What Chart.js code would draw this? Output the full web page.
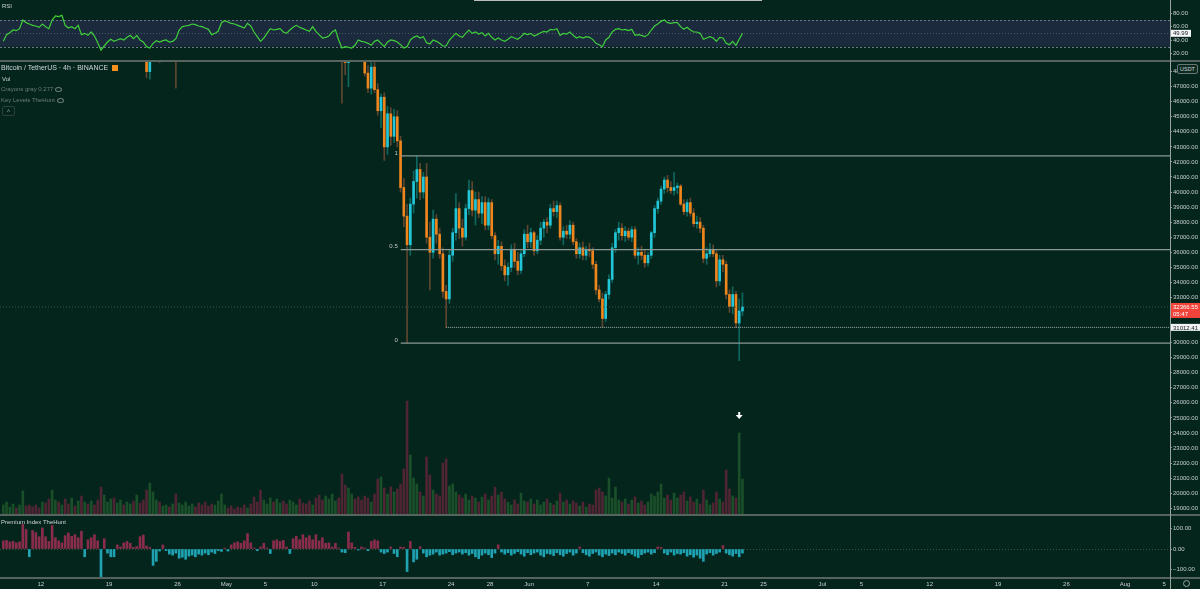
<!DOCTYPE html>
<html>
<head>
<meta charset="utf-8">
<title>Bitcoin / TetherUS 4h</title>
<script src="https://cdn.jsdelivr.net/npm/chart.js@4.4.1/dist/chart.umd.min.js"></script>
<style>
  html, body { margin: 0; padding: 0; }
  body { width: 1200px; height: 589px; position: relative; overflow: hidden; background: #03251c; font-family: "Liberation Sans", Arial, sans-serif; }
  canvas { position: absolute; left: 0; }
  #rsiCanvas { top: 0; }
  #mainCanvas { top: 61px; }
  #premCanvas { top: 516px; }
  .sep { position: absolute; left: 0; width: 1200px; height: 2px; background: #56635f; }
  .txt { position: absolute; white-space: nowrap; color: #d1d4dc; font-size: 7px; line-height: 8px; }
  .dim { color: #6f7d79; }
  .eye { position: absolute; width: 5px; height: 3px; border: 1px solid #6f7d79; border-radius: 50%; }
</style>
</head>
<body>
<canvas id="rsiCanvas" width="1200" height="60"></canvas>
<canvas id="mainCanvas" width="1200" height="453"></canvas>
<canvas id="premCanvas" width="1200" height="73"></canvas>

<div class="sep" style="top:60px"></div>
<div class="sep" style="top:514px"></div>
<div class="sep" style="top:577px"></div>
<div style="position:absolute;left:1170px;top:0;width:1px;height:589px;background:#9aa4a1"></div>
<div style="position:absolute;left:474px;top:0;width:288px;height:1px;background:#b8bdbb"></div>

<div class="txt" style="left:2px;top:2px;font-size:6px">RSI</div>
<div class="txt" style="left:1px;top:64px">Bitcoin / TetherUS · 4h · BINANCE</div>
<div style="position:absolute;left:112px;top:65px;width:6px;height:6px;background:#f5901e"></div>
<div class="txt" style="left:2px;top:75px;font-size:6px">Vol</div>
<div class="txt dim" style="left:1px;top:85px;font-size:6px">Crayons gray 0.277</div>
<div class="eye" style="left:55px;top:87px"></div>
<div class="txt dim" style="left:1px;top:96px;font-size:6px">Key Levels TheHunt</div>
<div class="eye" style="left:57px;top:98px"></div>
<div style="position:absolute;left:2px;top:106px;width:11px;height:8px;border:1px solid #2f403b;border-radius:2px;color:#9aa4a1;font-size:6px;line-height:9px;text-align:center">&#708;</div>
<div class="txt" style="left:1px;top:518px;font-size:6px">Premium Index TheHunt</div>
<div style="position:absolute;left:1177px;top:64px;width:19px;height:8px;border:1px solid #6a7672;border-radius:2px;background:#0b2a22;color:#d1d4dc;font-size:5.5px;line-height:8px;text-align:center">USDT</div>
<div style="position:absolute;left:1183px;top:580px;width:5px;height:5px;border:1px solid #9aa4a1;border-radius:50%"></div>

<script>
// time base: 8h slots counted from Apr 8 00:00, x axis in days since Apr 12
const firstSlotDay = -4;
const slotsPerDay = 3;
const X_MIN = -4.17;
const X_MAX = 115.6;

const dateTickDays = [0, 7, 14, 19, 23, 28, 35, 42, 46, 50, 56, 63, 70, 74, 80, 84, 91, 98, 105, 111, 115];
const dateTickLabels = ['12', '19', '26', 'May', '5', '10', '17', '24', '28', 'Jun', '7', '14', '21', '25', 'Jul', '5', '12', '19', '26', 'Aug', '5'];

const priceTicks = [19000, 20000, 21000, 22000, 23000, 24000, 25000, 26000, 27000, 28000, 29000, 30000, 31000, 32000, 33000,
  34000, 35000, 36000, 37000, 38000, 39000, 40000, 41000, 42000, 43000, 44000, 45000, 46000, 47000, 48000];
const rsiTicks = [20, 40, 60, 80];
const premTicks = [-100, 0, 100];

// candles that poke into view before the May drop: [slot, open, high, low, close]
const earlyCandles = [
  [44, 51000, 51500, 47600, 48000],
  [45, 48000, 50800, 47500, 50200],
  [48, 50000, 50700, 48600, 49800],
  [53, 50000, 50600, 46900, 49200],
];

const firstCandleSlot = 104;
const opens = [
  54500, 49500, 48600, 50000, 50600, 49900, 49700, 49300, 47900, 46900,
  48300, 46800, 45400, 46300, 43000, 45200, 43700, 45000, 43400, 40300,
  38400, 36500, 39200, 40700, 41500, 40000, 41000, 37000, 36000, 38200,
  37200, 35900, 33400, 32900, 35800, 37300, 38900, 37600, 37000, 38900,
  40100, 38800, 39500, 38600, 39300, 37800, 39300, 37100, 35900, 36400,
  35100, 34500, 35000, 36200, 35400, 34800, 35900, 37200, 36700, 37300,
  36100, 36800, 37600, 38000, 37800, 38900, 38700, 39100, 37000, 37400,
  37200, 37800, 36700, 35900, 36300, 35800, 36200, 36100, 35200, 33500,
  32900, 31600, 33200, 34200, 36300, 37300, 37600, 37100, 37400, 37000,
  37500, 35800, 36000, 35800, 35300, 35800, 37300, 38900, 39400, 40200,
  40800, 40300, 40100, 40300, 40400, 39200, 38700, 39300, 38600, 37900,
  38000, 37600, 35600, 35900, 36200, 35900, 34100, 35500, 35200, 33200,
  32400, 33200, 31300, 32100,
];
const highs = [
  55500, 50000, 50500, 51000, 51400, 50800, 50200, 49600, 48400, 48600,
  48700, 47200, 46500, 46600, 45700, 45600, 45500, 45400, 43700, 40900,
  39200, 39600, 41400, 42400, 41900, 41300, 41900, 38000, 38800, 38500,
  37600, 36300, 33800, 36200, 37600, 39900, 39300, 38200, 39200, 40800,
  40700, 40000, 40000, 39700, 39700, 39600, 39500, 37300, 36800, 36700,
  35500, 35300, 36500, 36600, 36000, 36100, 37500, 37800, 37600, 37400,
  37100, 38000, 38200, 38300, 39200, 39400, 39400, 39300, 37700, 37800,
  38100, 38000, 36900, 36600, 36700, 36400, 36600, 36300, 35400, 33800,
  33300, 33400, 34500, 36600, 37500, 38000, 37900, 37700, 37600, 37700,
  37700, 36300, 36400, 36200, 36000, 37400, 39100, 39600, 40400, 41000,
  41100, 40700, 41300, 40600, 40500, 39500, 39500, 39600, 38900, 38400,
  38300, 37800, 36300, 36600, 36500, 36100, 35800, 35800, 35400, 33500,
  33700, 33400, 32900, 33300,
];
const lows = [
  45900, 47800, 47000, 49200, 49500, 49000, 48900, 47700, 46600, 46500,
  46600, 45100, 44300, 42100, 42500, 43100, 43300, 43000, 40000, 37700,
  29960, 35800, 38600, 39600, 39500, 39600, 36600, 33500, 35600, 36600,
  35600, 33000, 31012.41, 32600, 35400, 36800, 36900, 36400, 36800, 38500,
  38400, 37800, 38300, 37900, 37500, 37500, 36900, 35500, 35200, 34800,
  34100, 33800, 34700, 35000, 34500, 34600, 35700, 36300, 36300, 35800,
  35900, 36500, 37000, 37300, 37600, 38400, 38300, 36800, 36500, 36900,
  36900, 36500, 35600, 35600, 35500, 35500, 35700, 34900, 33200, 32700,
  31000, 31400, 32900, 34000, 36000, 36800, 36800, 36700, 36800, 36700,
  35600, 35200, 35500, 35000, 35100, 35600, 37000, 38600, 39200, 39900,
  40000, 39900, 39800, 39900, 39100, 38500, 38400, 38400, 37700, 37600,
  37300, 35300, 35200, 35700, 35700, 33700, 33800, 34700, 32900, 32000,
  31900, 31000, 28800, 31800,
];
const closes = [
  49500, 48600, 50000, 50600, 49900, 49700, 49300, 47900, 46900, 48300,
  46800, 45400, 46300, 43000, 45200, 43700, 45000, 43400, 40300, 38400,
  36500, 39200, 40700, 41500, 40000, 41000, 37000, 36000, 38200, 37200,
  35900, 33400, 32900, 35800, 37300, 38900, 37600, 37000, 38900, 40100,
  38800, 39500, 38600, 39300, 37800, 39300, 37100, 35900, 36400, 35100,
  34500, 35000, 36200, 35400, 34800, 35900, 37200, 36700, 37300, 36100,
  36800, 37600, 38000, 37800, 38900, 38700, 39100, 37000, 37400, 37200,
  37800, 36700, 35900, 36300, 35800, 36200, 36100, 35200, 33500, 32900,
  31600, 33200, 34200, 36300, 37300, 37600, 37100, 37400, 37000, 37500,
  35800, 36000, 35800, 35300, 35800, 37300, 38900, 39400, 40200, 40800,
  40300, 40100, 40300, 40400, 39200, 38700, 39300, 38600, 37900, 38000,
  37600, 35600, 35900, 36200, 35900, 34100, 35500, 35200, 33200, 32400,
  33200, 31300, 32100, 32366.55,
];

const volumes = [
  9, 12, 7, 10, 6, 9, 23, 8, 9, 7,
  9, 6, 12, 11, 15, 24, 14, 12, 9, 15,
  10, 16, 8, 13, 18, 12, 10, 13, 9, 14,
  27, 19, 12, 15, 16, 11, 14, 9, 12, 10,
  13, 19, 11, 14, 24, 31, 22, 14, 12, 8,
  9, 7, 10, 20, 11, 9, 12, 8, 10, 7,
  11, 9, 12, 8, 10, 9, 13, 20, 9, 6,
  8, 5, 7, 6, 9, 6, 10, 17, 12, 24,
  14, 10, 16, 12, 15, 11, 13, 10, 14, 12,
  9, 15, 11, 10, 13, 9, 16, 19, 14, 18,
  15, 20, 13, 16, 40, 29, 26, 20, 15, 17,
  14, 18, 16, 12, 20, 35, 37, 26, 20, 27,
  22, 25, 30, 45, 113, 59, 36, 30, 22, 18,
  57, 39, 24, 20, 18, 51, 55, 28, 30, 22,
  19, 16, 20, 14, 18, 16, 12, 17, 20, 14,
  18, 27, 19, 22, 15, 12, 9, 14, 10, 21,
  13, 12, 15, 10, 14, 9, 12, 15, 11, 9,
  13, 21, 12, 14, 10, 13, 11, 8, 12, 7,
  10, 9, 24, 26, 22, 18, 36, 16, 27, 14,
  12, 15, 10, 14, 17, 11, 13, 9, 12, 20,
  18, 22, 30, 16, 19, 14, 21, 16, 19, 22,
  13, 17, 12, 15, 10, 24, 14, 9, 11, 22,
  15, 12, 44, 25, 18, 16, 81, 35,
];

const premium = [
  40, 42, 35, 38, 30, 35, 120, 95, -38, 90,
  80, 60, 103, 60, 37, 115, 55, 40, 30, 65,
  78, 62, 70, 55, 87, -38, 45, 55, 70, 40,
  -160, 50, -20, -38, -38, 20, 10, 30, 37, 28,
  8, 12, 60, 68, 15, 8, -80, -60, -10, 20,
  -8, -25, -30, -20, -45, -40, -50, -35, -30, -38,
  -25, -30, -20, -28, -15, -22, -8, -12, 5, -10,
  20, 30, 35, 28, 40, 75, 30, 5, -8, 10,
  28, 5, -22, 40, 45, 37, 42, 10, -22, 50,
  62, 45, 70, 55, 65, 45, 70, 40, 55, 28,
  30, 10, 28, 5, -15, -18, 83, 30, 8, -5,
  10, 5, -8, 37, 45, 40, -15, -22, -15, 10,
  -22, -38, 10, 8, -110, 37, -63, -50, 12, -20,
  -38, -30, -25, -15, -30, -25, -20, -13, -28, -20,
  -15, -25, -18, -30, -22, -38, -47, -30, -20, -28,
  -42, -20, 20, -15, -25, -18, -30, -22, -13, -25,
  -35, -18, -28, -20, -15, -30, -38, -22, -25, -32,
  -18, -28, -35, -22, -15, -30, -20, 10, -18, -28,
  -35, -22, -15, -30, -38, -25, -32, -20, -28, -15,
  -22, -30, -18, -25, -35, -42, -28, -20, -15, -25,
  -18, 10, 8, -20, -28, -15, -30, -22, -25, -18,
  -35, -28, -40, -30, -45, -60, -25, -18, -30, -22,
  -15, 17, -20, -28, -35, -22, -38, -20,
];

const rsi = [
  38, 48, 51, 55, 54, 57, 70, 66, 64, 62,
  61, 59, 64, 60, 57, 70, 76, 75, 77, 62,
  58, 60, 57, 62, 48, 50, 47, 52, 46, 36,
  25, 31, 37, 41, 38, 40, 42, 40, 44, 47,
  42, 47, 40, 37, 30, 28, 35, 39, 37, 39,
  40, 37, 38, 42, 55, 60, 61, 62, 64, 63,
  61, 60, 58, 56, 48, 50, 53, 66, 69, 67,
  65, 64, 62, 60, 58, 65, 61, 52, 45, 38,
  43, 50, 57, 55, 56, 57, 52, 50, 55, 59,
  62, 59, 57, 55, 53, 60, 53, 48, 43, 44,
  46, 52, 55, 40, 28, 30, 29, 28, 32, 40,
  38, 37, 35, 32, 38, 40, 35, 30, 37, 40,
  39, 37, 33, 28, 30, 40, 44, 46, 43, 45,
  36, 34, 40, 38, 35, 31, 31, 40, 45, 50,
  46, 44, 50, 55, 50, 52, 49, 51, 46, 50,
  44, 40, 43, 40, 38, 41, 45, 43, 41, 45,
  50, 48, 50, 46, 48, 51, 53, 52, 56, 55,
  57, 47, 50, 49, 52, 47, 43, 45, 43, 45,
  44, 41, 35, 33, 30, 40, 44, 52, 56, 57,
  55, 56, 54, 56, 47, 48, 47, 45, 48, 55,
  61, 64, 68, 70, 66, 65, 66, 66, 60, 56,
  59, 55, 52, 52, 50, 41, 43, 45, 43, 38,
  44, 43, 35, 33, 38, 32, 41, 49.99,
];

// drawn levels
const fibLevels = [42400, 36180, 29960];
const fibLabels = ['1', '0.5', '0'];
const fibStartDay = 36.85;
const rangeLow = 31012.41;
const rangeLowSlot = 136;
const lastPrice = 32366.55;
const countdown = '05:47';
const rsiUpper = 70, rsiMid = 50, rsiLower = 30;

const FONT = '"Liberation Sans", Arial, sans-serif';
const LABEL = '#c9cdd3';
const UP_BODY = '#22c6d8', DN_BODY = '#ef861d';
const UP_WICK = '#0f665f', DN_WICK = '#5f4530';
const VOL_UP = '#1a4f29', VOL_DN = '#4f2433';
const PREM_UP = '#8a2c4b', PREM_DN = '#1fa2b2';

Chart.defaults.font.family = FONT;
Chart.defaults.font.size = 6;

const slotDay = (i) => firstSlotDay + (i + 0.5) / slotsPerDay;

// candle list
const candles = earlyCandles.map(([s, o, h, l, c]) => ({ s, o, h, l, c }));
closes.forEach((c, k) => candles.push({ s: firstCandleSlot + k, o: opens[k], h: highs[k], l: lows[k], c }));
const candleUp = {};
candles.forEach((cd) => { candleUp[cd.s] = cd.c >= cd.o; });
const slotUp = (i) => (i in candleUp ? candleUp[i] : (i === 0 || rsi[i] >= rsi[i - 1]));

const bodyData = candles.map((cd) => ({ x: slotDay(cd.s), y: [cd.o, cd.c], up: cd.c >= cd.o }));
const wickData = candles.map((cd) => ({ x: slotDay(cd.s), y: [cd.l, cd.h], up: cd.c >= cd.o }));
const volData = volumes.map((v, i) => ({ x: slotDay(i), y: v, up: slotUp(i) }));
const rsiData = rsi.map((v, i) => ({ x: slotDay(i), y: v }));
const premData = premium.map((v, i) => ({ x: slotDay(i), y: v }));

const fmt2 = (v) => (v < 0 ? '\u2212' + Math.abs(v).toFixed(2) : v.toFixed(2));

function timeAxis(show) {
  return {
    type: 'linear',
    min: X_MIN,
    max: X_MAX,
    offset: false,
    display: show,
    afterBuildTicks: (s) => { s.ticks = dateTickDays.map((v) => ({ value: v })); },
    afterFit: (s) => { s.paddingLeft = 0; s.paddingRight = 0; if (show) s.height = 12; },
    ticks: {
      autoSkip: false,
      maxRotation: 0,
      color: LABEL,
      padding: 2,
      font: { size: 6, family: FONT },
      callback: (v, i) => dateTickLabels[i],
    },
    grid: { offset: false, drawOnChartArea: false, tickLength: 2, color: '#7c8884' },
    border: { display: false },
  };
}

function priceAxis(min, max, ticks) {
  return {
    type: 'linear',
    position: 'right',
    min,
    max,
    afterBuildTicks: (s) => { s.ticks = ticks.map((v) => ({ value: v })); },
    afterFit: (s) => { s.width = 30; s.paddingTop = 0; s.paddingBottom = 0; },
    ticks: { color: LABEL, padding: 1, font: { size: 6, family: FONT }, callback: (v) => fmt2(v) },
    grid: { drawOnChartArea: false, tickLength: 2, color: '#8b9692' },
    border: { display: false },
  };
}

const baseOptions = {
  responsive: false,
  devicePixelRatio: 1,
  animation: false,
  events: [],
  layout: { padding: 0, autoPadding: false },
  plugins: { legend: { display: false }, tooltip: { enabled: false } },
};

function hLine(fromDay, toDay, level) {
  return [{ x: fromDay, y: level }, { x: toDay, y: level }];
}

// ---------- RSI pane ----------
const rsiMarks = {
  id: 'rsiMarks',
  beforeDatasetsDraw(chart) {
    const { ctx, chartArea: a } = chart;
    const y = chart.scales.y;
    const top = y.getPixelForValue(rsiUpper);
    const bot = y.getPixelForValue(rsiLower);
    const mid = y.getPixelForValue(rsiMid);
    ctx.save();
    ctx.fillStyle = '#1b2a3c';
    ctx.fillRect(a.left, top, a.right - a.left, bot - top);
    ctx.lineWidth = 1;
    ctx.strokeStyle = '#6d7a88';
    ctx.setLineDash([2, 2]);
    [top, bot].forEach((p) => {
      ctx.beginPath();
      ctx.moveTo(a.left, Math.round(p) + 0.5);
      ctx.lineTo(a.right, Math.round(p) + 0.5);
      ctx.stroke();
    });
    ctx.strokeStyle = '#4c5a68';
    ctx.setLineDash([1, 2]);
    ctx.beginPath();
    ctx.moveTo(a.left, Math.round(mid) + 0.5);
    ctx.lineTo(a.right, Math.round(mid) + 0.5);
    ctx.stroke();
    ctx.restore();
  },
  afterDraw(chart) {
    const { ctx, chartArea: a } = chart;
    const last = rsi[rsi.length - 1];
    const yp = chart.scales.y.getPixelForValue(last);
    ctx.save();
    ctx.fillStyle = '#f4f6f5';
    ctx.fillRect(a.right + 1, yp - 3.5, 20, 7);
    ctx.fillStyle = '#131722';
    ctx.font = '6px ' + FONT;
    ctx.textBaseline = 'middle';
    ctx.fillText(last.toFixed(2), a.right + 3, yp + 0.5);
    ctx.restore();
  },
};

new Chart(document.getElementById('rsiCanvas'), {
  type: 'line',
  data: {
    datasets: [{ data: rsiData, borderColor: '#3fcf3a', borderWidth: 1.2, pointRadius: 0, tension: 0 }],
  },
  options: { ...baseOptions, scales: { x: timeAxis(false), y: priceAxis(10, 100, rsiTicks) } },
  plugins: [rsiMarks],
});

// ---------- price + volume pane ----------
const mainMarks = {
  id: 'mainMarks',
  afterDraw(chart) {
    const { ctx, chartArea: a } = chart;
    const x = chart.scales.x;
    const y = chart.scales.y;
    const v = chart.scales.vol;
    ctx.save();
    ctx.font = '6px ' + FONT;
    ctx.textBaseline = 'middle';
    ctx.textAlign = 'right';
    ctx.fillStyle = '#c4ccc9';
    fibLevels.forEach((lv, k) => {
      ctx.fillText(fibLabels[k], x.getPixelForValue(fibStartDay) - 3, y.getPixelForValue(lv) - 3);
    });

    ctx.textAlign = 'left';
    const yl = y.getPixelForValue(lastPrice);
    ctx.fillStyle = '#f0433a';
    ctx.fillRect(a.right + 1, yl - 4, 30, 15);
    ctx.fillStyle = '#ffffff';
    ctx.fillText(lastPrice.toFixed(2), a.right + 3, yl);
    ctx.fillText(countdown, a.right + 3, yl + 7);

    const ylo = y.getPixelForValue(rangeLow);
    ctx.fillStyle = '#f2f4f3';
    ctx.fillRect(a.right + 1, ylo - 3.5, 30, 7);
    ctx.fillStyle = '#131722';
    ctx.fillText(rangeLow.toFixed(2), a.right + 3, ylo + 0.5);

    // marker above the largest recent volume bar
    const spike = volumes.length - 2;
    const ax = x.getPixelForValue(slotDay(spike));
    const ay = v.getPixelForValue(volumes[spike]) - 18;
    ctx.fillStyle = '#ffffff';
    ctx.fillRect(ax - 1, ay - 3, 2, 4);
    ctx.beginPath();
    ctx.moveTo(ax - 3.5, ay);
    ctx.lineTo(ax + 3.5, ay);
    ctx.lineTo(ax, ay + 4);
    ctx.closePath();
    ctx.fill();
    ctx.restore();
  },
};

const lineDs = (data, color, dash, width) => ({
  type: 'line', data, borderColor: color, borderWidth: width, borderDash: dash, pointRadius: 0, order: 0,
});

new Chart(document.getElementById('mainCanvas'), {
  type: 'bar',
  data: {
    datasets: [
      lineDs(hLine(X_MIN, X_MAX, lastPrice), '#43544e', [1, 2], 1),
      lineDs(hLine(slotDay(rangeLowSlot), X_MAX, rangeLow), '#a3aeaa', [1, 1], 1),
      ...fibLevels.map((lv) => lineDs(hLine(fibStartDay, X_MAX, lv), '#8a9793', [], 1.2)),
      {
        data: bodyData,
        backgroundColor: (c) => (c.raw && c.raw.up ? UP_BODY : DN_BODY),
        barThickness: 2,
        minBarLength: 1,
        grouped: false,
        order: 1,
      },
      {
        data: wickData,
        backgroundColor: (c) => (c.raw && c.raw.up ? UP_WICK : DN_WICK),
        barThickness: 1,
        grouped: false,
        order: 2,
      },
      {
        data: volData,
        yAxisID: 'vol',
        backgroundColor: (c) => (c.raw && c.raw.up ? VOL_UP : VOL_DN),
        barThickness: 2,
        grouped: false,
        order: 3,
      },
    ],
  },
  options: {
    ...baseOptions,
    scales: {
      x: timeAxis(false),
      y: priceAxis(18615, 48705, priceTicks),
      vol: { type: 'linear', display: false, min: 0, max: 453 },
    },
  },
  plugins: [mainMarks],
});

// ---------- premium index pane ----------
const premMarks = {
  id: 'premMarks',
  beforeDatasetsDraw(chart) {
    const { ctx, chartArea: a } = chart;
    const z = Math.round(chart.scales.y.getPixelForValue(0)) + 0.5;
    ctx.save();
    ctx.strokeStyle = '#3f514b';
    ctx.lineWidth = 1;
    ctx.setLineDash([1, 2]);
    ctx.beginPath();
    ctx.moveTo(a.left, z);
    ctx.lineTo(a.right, z);
    ctx.stroke();
    ctx.restore();
  },
};

new Chart(document.getElementById('premCanvas'), {
  type: 'bar',
  data: {
    datasets: [{
      data: premData,
      backgroundColor: (c) => (c.raw && c.raw.y >= 0 ? PREM_UP : PREM_DN),
      barThickness: 2,
      grouped: false,
    }],
  },
  options: {
    ...baseOptions,
    scales: { x: timeAxis(true), y: priceAxis(-136.6, 161, premTicks) },
  },
  plugins: [premMarks],
});
</script>
</body>
</html>
